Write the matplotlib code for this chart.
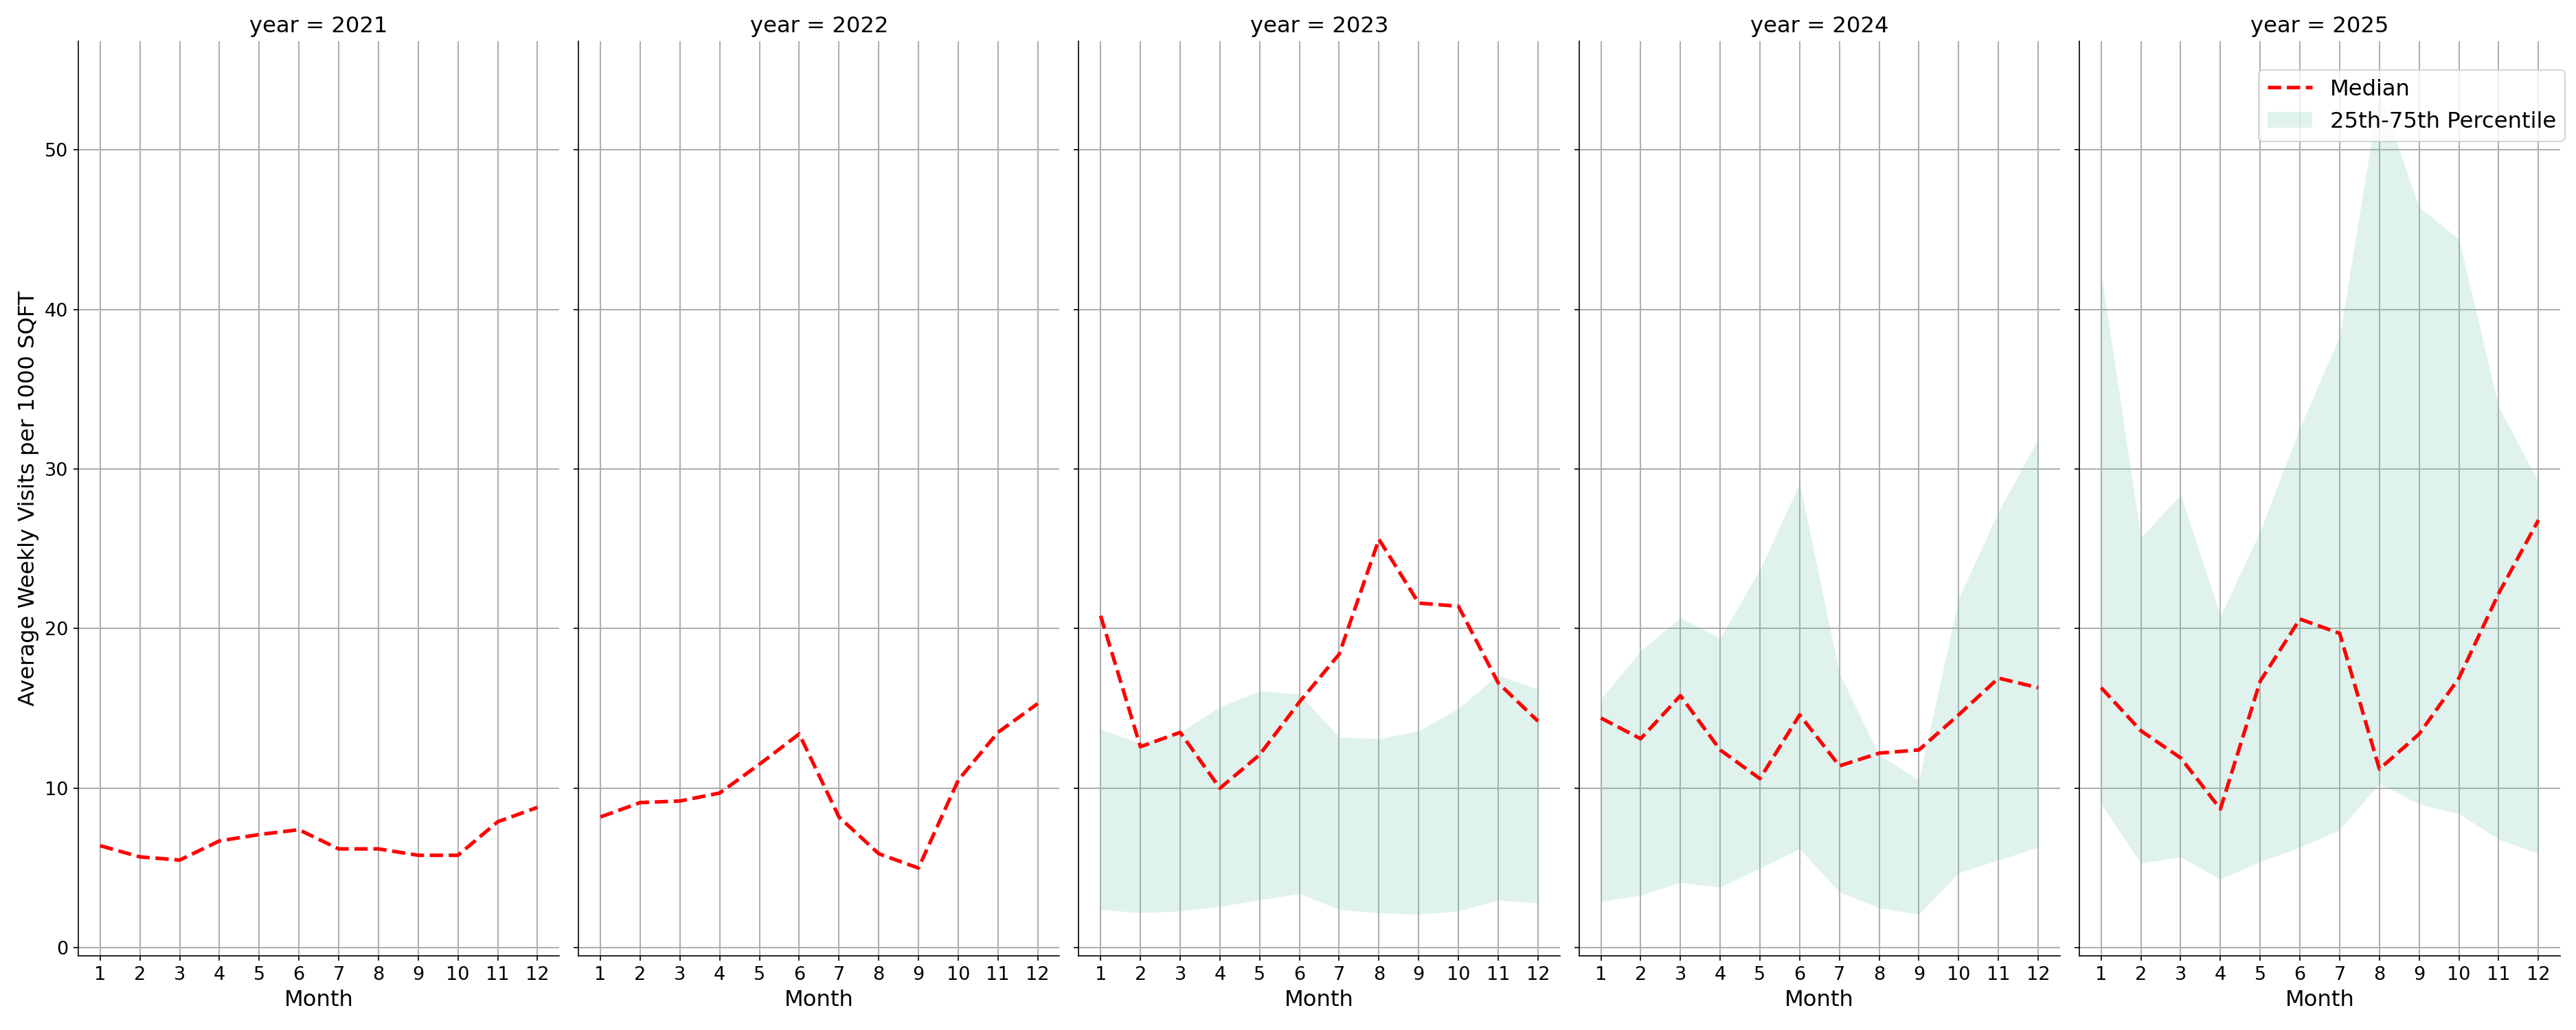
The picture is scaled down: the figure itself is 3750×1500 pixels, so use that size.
import matplotlib
matplotlib.use("Agg")
import matplotlib.pyplot as plt

# monthly data
months = list(range(1, 13))
years = [2021, 2022, 2023, 2024, 2025]

median_2021 = [6.4, 5.7, 5.5, 6.7, 7.1, 7.4, 6.2, 6.2, 5.8, 5.8, 7.9, 8.8]
median_2022 = [8.2, 9.1, 9.2, 9.7, 11.5, 13.4, 8.2, 5.9, 5.0, 10.5, 13.5, 15.3]
median_2023 = [20.8, 12.6, 13.5, 10.0, 12.1, 15.4, 18.4, 25.6, 21.6, 21.4, 16.6, 14.2]
median_2024 = [14.4, 13.1, 15.8, 12.4, 10.6, 14.6, 11.4, 12.2, 12.4, 14.6, 16.9, 16.3]
median_2025 = [16.3, 13.6, 11.9, 8.7, 16.7, 20.6, 19.7, 11.2, 13.4, 16.9, 22.2, 26.8]

# 25th / 75th percentiles (only present from 2023)
p25_2023 = [2.4, 2.2, 2.3, 2.6, 3.0, 3.4, 2.4, 2.2, 2.1, 2.3, 3.0, 2.8]
p75_2023 = [13.7, 12.8, 13.5, 15.1, 16.1, 15.9, 13.2, 13.1, 13.6, 15.0, 17.1, 16.2]
p25_2024 = [2.9, 3.3, 4.1, 3.8, 5.0, 6.2, 3.5, 2.5, 2.1, 4.7, 5.5, 6.3]
p75_2024 = [15.6, 18.6, 20.7, 19.4, 23.7, 29.1, 17.2, 12.1, 10.5, 21.9, 27.3, 31.9]
p25_2025 = [9.0, 5.3, 5.7, 4.3, 5.4, 6.3, 7.4, 10.3, 9.0, 8.4, 6.8, 5.9]
p75_2025 = [42.3, 25.7, 28.4, 20.8, 26.1, 32.6, 38.3, 53.6, 46.4, 44.4, 33.9, 29.2]

medians = [median_2021, median_2022, median_2023, median_2024, median_2025]
p25s = [None, None, p25_2023, p25_2024, p25_2025]
p75s = [None, None, p75_2023, p75_2024, p75_2025]

fig, axes = plt.subplots(1, 5, figsize=(25, 10), sharey=True)
fig.subplots_adjust(left=0.0304, right=0.9939, top=0.96, bottom=0.072, wspace=0.04)

for ax, year, med, lo, hi in zip(axes, years, medians, p25s, p75s):
    ax.plot(months, med, color='red', linestyle='--', linewidth=2.5, label='Median', zorder=3)
    if lo is not None:
        ax.fill_between(months, lo, hi, color='#66c2a5', alpha=0.2, linewidth=0,
                        label='25th-75th Percentile', zorder=2)
    ax.set_title(f'year = {year}', fontsize=15.5)
    ax.set_xlabel('Month', fontsize=15.5)
    ax.set_xticks(months)
    ax.tick_params(labelsize=13)
    ax.grid(True, color='#b0b0b0', linewidth=1)
    ax.set_axisbelow(True)
    ax.spines['top'].set_visible(False)
    ax.spines['right'].set_visible(False)

axes[0].set_ylim(-0.5, 56.8)
axes[0].set_ylabel('Average Weekly Visits per 1000 SQFT', fontsize=15.5)
axes[-1].legend(loc='upper right', fontsize=15.5,
                bbox_to_anchor=(1.0, 0.943), bbox_transform=fig.transFigure)

fig.savefig('out.png', dpi=150)
